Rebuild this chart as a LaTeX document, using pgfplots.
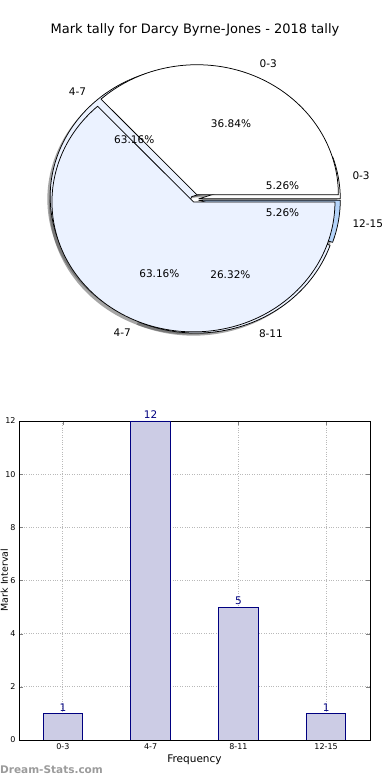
\documentclass[border=0pt]{standalone}
\usepackage{fontspec}
\setmainfont{DejaVu Sans}
\usepackage{pgfplots}
\pgfplotsset{compat=1.18}
\definecolor{pielight}{RGB}{235,242,255}
\definecolor{pieblue}{RGB}{180,212,250}
\definecolor{barfill}{RGB}{204,204,229}
\definecolor{navyc}{RGB}{0,0,128}
\definecolor{wmgray}{RGB}{155,155,155}

% pie helpers: #1 start angle, #2 end angle, #3 explode
\newcommand{\pieshadow}[3]{%
  \fill[black!70, opacity=0.5]
   (axis cs:{#3*cos((#1+#2)/2)-0.02},{#3*sin((#1+#2)/2)-0.02})
   -- (axis cs:{#3*cos((#1+#2)/2)-0.02+cos(#1)},{#3*sin((#1+#2)/2)-0.02+sin(#1)})
   arc[start angle=#1, end angle=#2, x radius=141.5pt, y radius=130pt] -- cycle;}
\newcommand{\piewedge}[4]{%
  \filldraw[fill=#4, draw=black, line width=0.75pt, line join=round]
   (axis cs:{#3*cos((#1+#2)/2)},{#3*sin((#1+#2)/2)})
   -- (axis cs:{#3*cos((#1+#2)/2)+cos(#1)},{#3*sin((#1+#2)/2)+sin(#1)})
   arc[start angle=#1, end angle=#2, x radius=141.5pt, y radius=130pt] -- cycle;}
% #1 start, #2 end, #3 explode, #4 anchor, #5 label, #6 pct
\newcommand{\pielabel}[6]{%
  \node[anchor=#4, inner sep=0pt, font=\fontsize{10.5}{12}\selectfont]
   at (axis cs:{(1.1+#3)*cos((#1+#2)/2)},{(1.1+#3)*sin((#1+#2)/2)}) {#5};
  \node[anchor=center, inner sep=0pt, font=\fontsize{10.5}{12}\selectfont]
   at (axis cs:{(0.6+#3)*cos((#1+#2)/2)},{(0.6+#3)*sin((#1+#2)/2)}) {#6};}

\begin{document}
\begin{tikzpicture}

% pie B: counts per interval
\pgfmathsetmacro\vBa{1}\pgfmathsetmacro\vBb{12}\pgfmathsetmacro\vBc{5}\pgfmathsetmacro\vBd{1}
\pgfmathsetmacro\tB{\vBa+\vBb+\vBc+\vBd}
\pgfmathsetmacro\bA{0}
\pgfmathsetmacro\bB{360*\vBa/\tB}
\pgfmathsetmacro\bC{360*(\vBa+\vBb)/\tB}
\pgfmathsetmacro\bD{360*(\vBa+\vBb+\vBc)/\tB}
\pgfmathsetmacro\bE{360}
% pie A: two values
\pgfmathsetmacro\vAa{7}\pgfmathsetmacro\vAb{12}
\pgfmathsetmacro\aA{0}
\pgfmathsetmacro\aB{360*\vAa/(\vAa+\vAb)}
\pgfmathsetmacro\aC{360}

\node[font=\fontsize{13}{15}\selectfont] at (195pt,750pt) {Mark tally for Darcy Byrne-Jones - 2018 tally};

\begin{axis}[at={(194.6pt,580.5pt)}, anchor=center, scale only axis,
  width=283pt, height=260pt, xmin=-1, xmax=1, ymin=-1, ymax=1,
  hide axis, clip=false]
  % shadows
  \pieshadow{\bA}{\bB}{0.03}
  \pieshadow{\bB}{\bC}{0.03}
  \pieshadow{\bC}{\bD}{0.03}
  \pieshadow{\bD}{\bE}{0.03}
  \pieshadow{\aA}{\aB}{0.04}
  \pieshadow{\aB}{\aC}{0.02}
  % pie B wedges
  \piewedge{\bA}{\bB}{0.03}{white}
  \piewedge{\bB}{\bC}{0.03}{pielight}
  \piewedge{\bC}{\bD}{0.03}{pielight}
  \piewedge{\bD}{\bE}{0.03}{pieblue}
  % pie A wedges
  \piewedge{\aA}{\aB}{0.04}{white}
  \piewedge{\aB}{\aC}{0.02}{pielight}
  % labels
  \pielabel{\bA}{\bB}{0.03}{west}{0-3}{5.26\%}
  \pielabel{\bB}{\bC}{0.03}{east}{4-7}{63.16\%}
  \pielabel{\bC}{\bD}{0.03}{west}{8-11}{26.32\%}
  \pielabel{\bD}{\bE}{0.03}{west}{12-15}{5.26\%}
  \pielabel{\aA}{\aB}{0.04}{west}{0-3}{36.84\%}
  \pielabel{\aB}{\aC}{0.02}{east}{4-7}{63.16\%}
\end{axis}

\begin{axis}[at={(19pt,40pt)}, anchor=south west, scale only axis,
  width=351pt, height=319pt,
  xmin=-0.5, xmax=3.5, ymin=0, ymax=12,
  xtick={0,1,2,3}, xticklabels={0-3,4-7,8-11,12-15},
  ytick={0,2,4,6,8,10,12},
  /pgf/number format/assume math mode=true,
  tick label style={font=\fontsize{8}{9}\selectfont},
  tick align=inside, major tick length=4pt,
  xtick pos=both, ytick pos=both,
  grid=major, major grid style={gray!55, dotted, line width=0.9pt},
  axis line style={line width=0.8pt},
  xlabel={Frequency},
  xlabel style={font=\fontsize{10.5}{12}\selectfont, yshift=2pt}]
\addplot[ybar, bar width=0.45, fill=barfill, draw=navyc, line width=0.8pt,
  nodes near coords,
  nodes near coords style={font=\fontsize{10.5}{12}\selectfont, text=navyc, inner sep=2pt}]
  coordinates {(0,1) (1,12) (2,5) (3,1)};
\end{axis}

\node[rotate=90, anchor=base, font=\fontsize{9.5}{11}\selectfont] at (7.8pt,200pt) {Mark Interval};
\node[anchor=west, inner sep=0pt, font=\bfseries\fontsize{10.5}{12}\selectfont, text=wmgray] at (0pt,10pt) {Dream-Stats.com};

\pgfresetboundingbox
\useasboundingbox (0pt,0pt) rectangle (390pt,780pt);
\end{tikzpicture}
\end{document}
